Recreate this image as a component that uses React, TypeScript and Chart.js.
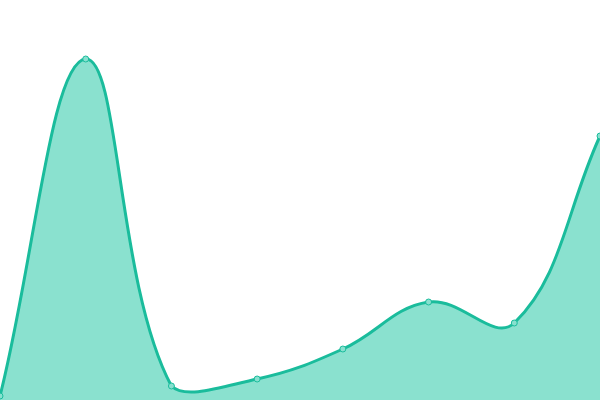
import React, { useEffect, useRef } from 'react';
import { Chart } from 'chart.js/auto';

const labels = ['1', '2', '3', '4', '5', '6', '7', '8'];
const values = [1, 85.25, 3.5, 5.25, 12.75, 24.5, 19.25, 66];

const App: React.FC = () => {
  const ref = useRef<HTMLCanvasElement | null>(null);
  const instance = useRef<Chart | null>(null);

  useEffect(() => {
    document.body.style.margin = '0';
    if (!ref.current) return;
    const ctx = ref.current.getContext('2d');
    if (!ctx) return;
    instance.current = new Chart(ctx, {
      type: 'line',
      data: {
        labels,
        datasets: [
          {
            data: values,
            borderColor: '#1abc9c',
            backgroundColor: 'rgba(22, 196, 160, 0.5)',
            borderWidth: 3,
            fill: true,
            tension: 0.4,
            pointRadius: 3,
            pointBorderWidth: 1,
            pointBackgroundColor: '#88e0cf',
            pointBorderColor: '#1abc9c'
          }
        ]
      },
      options: {
        animation: false,
        responsive: true,
        maintainAspectRatio: false,
        layout: { padding: 0, autoPadding: false },
        plugins: { legend: { display: false }, tooltip: { enabled: false } },
        scales: {
          x: { display: false },
          y: { display: false, min: 0, max: 100 }
        }
      }
    });
    return () => { if (instance.current) instance.current.destroy(); };
  }, []);

  return (
    <div style={{ width: 600, height: 400, position: 'relative' }}>
      <canvas ref={ref} />
    </div>
  );
};

export default App;
